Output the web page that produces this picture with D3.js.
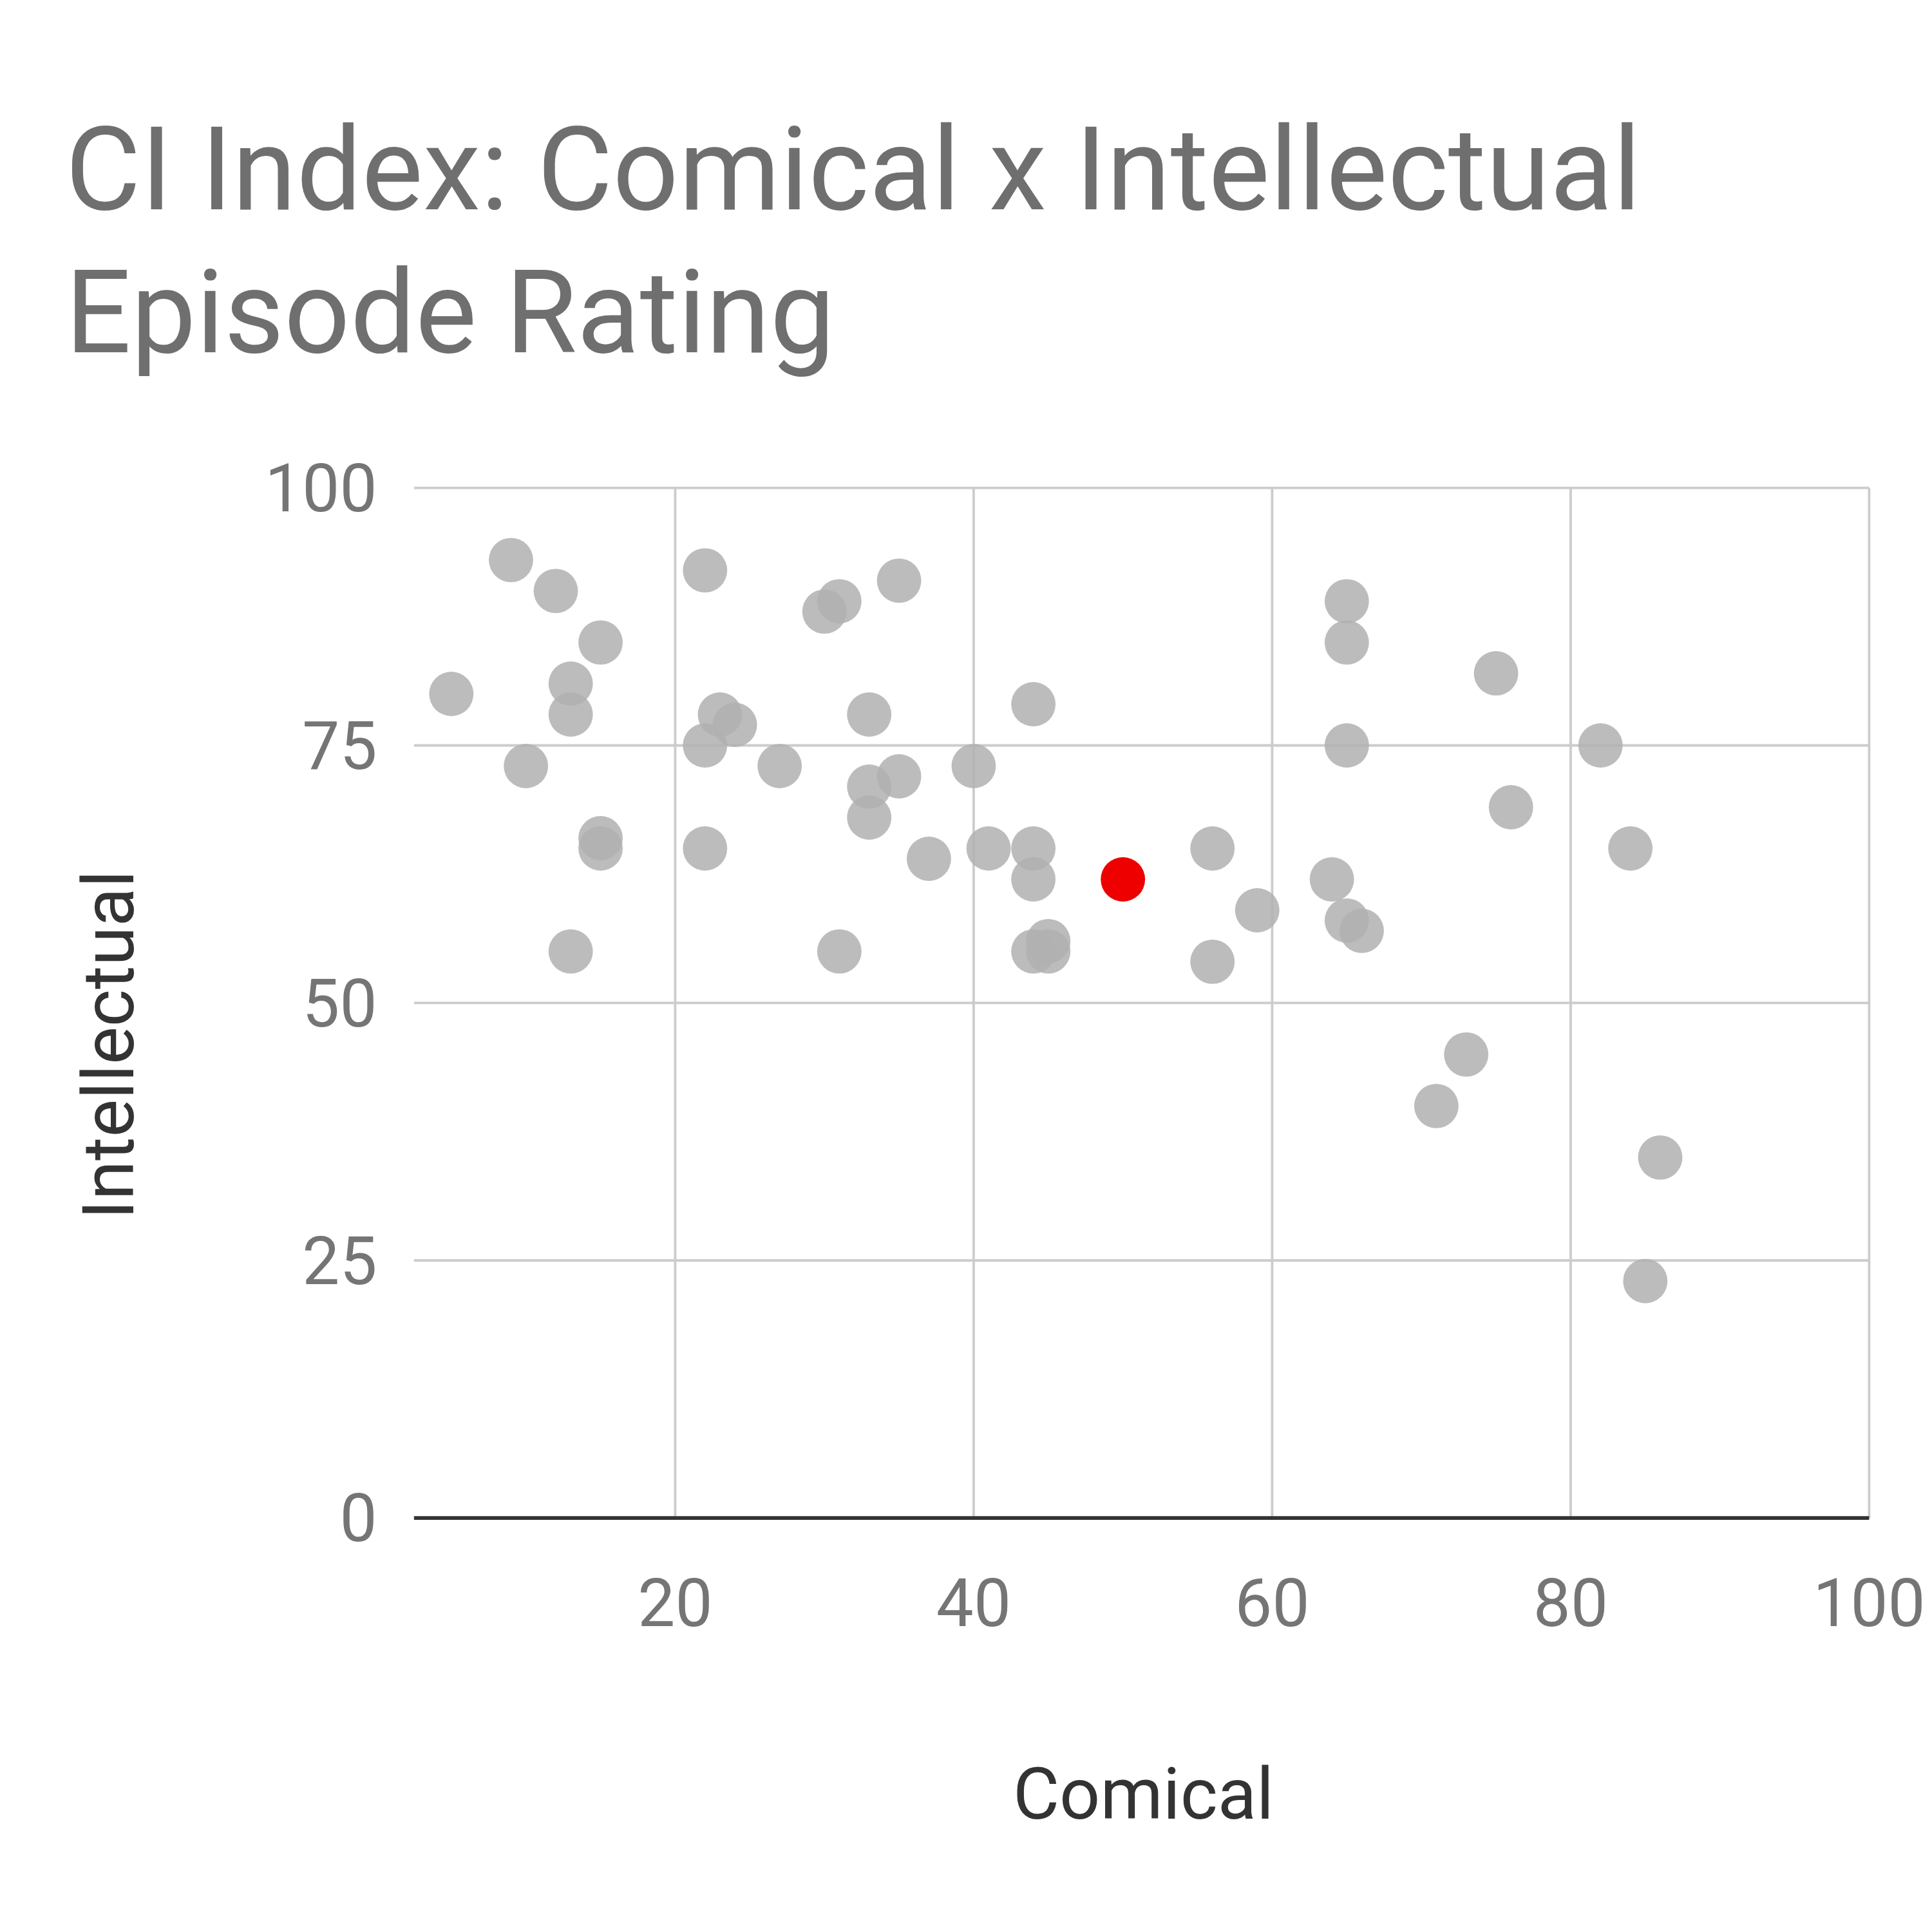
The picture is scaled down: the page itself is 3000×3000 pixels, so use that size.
<!DOCTYPE html>
<html>
<head>
<meta charset="utf-8">
<script src="https://cdn.jsdelivr.net/npm/d3@7"></script>
<style>
body { margin: 0; background: #fff; }
text { font-family: Roboto, "Noto Sans", sans-serif; }
</style>
</head>
<body>
<div id="chart"></div>
<script>
// episode ratings
const comical = [5, 9, 12, 15, 13, 13, 10, 15, 15, 13, 22, 23, 24, 22, 27, 22, 30, 31, 35, 33, 33, 35, 33, 37, 31,
	40, 41, 44, 44, 44, 44, 45, 45, 56, 56, 59, 64, 65, 66, 65, 65, 65, 75, 76, 82, 84, 73, 71, 86, 85];
const intellectual = [80, 93, 90, 85, 81, 78, 73, 66, 65, 55, 92, 78, 77, 75, 73, 65, 88, 89, 91, 78, 71, 72, 68, 64, 55,
	73, 65, 79, 65, 62, 55, 56, 55, 65, 54, 59, 62, 58, 57, 89, 85, 75, 82, 69, 75, 65, 45, 40, 35, 23];
const highlight = { comical: 50, intellectual: 62 };
const xTicks = [20, 40, 60, 80, 100];
const yTicks = [0, 25, 50, 75, 100];

function trans(x, y) {
	return 'translate(' + x + ',' + y + ')';
}

const svg = d3.select('#chart').append('svg')
	.attr('width', 3000).attr('height', 3000)
	.attr('viewBox', '0 0 1568 1568');

const x = d3.scaleLinear().domain([2.5, 100]).range([336, 1517]);
const y = d3.scaleLinear().domain([0, 100]).range([1232, 396]);

svg.append('text').attr('x', 53).attr('y', 170)
	.attr('font-size', 94).attr('fill', '#6f6f6f')
	.text('CI Index: Comical x Intellectual');
svg.append('text').attr('x', 53).attr('y', 286)
	.attr('font-size', 94).attr('fill', '#6f6f6f')
	.text('Episode Rating');

const grid = svg.append('g').attr('stroke', '#cccccc').attr('stroke-width', 2);
grid.selectAll('.vx').data(xTicks).enter().append('line')
	.attr('x1', d => x(d)).attr('x2', d => x(d))
	.attr('y1', y(0)).attr('y2', y(100));
grid.selectAll('.hy').data(yTicks.filter(d => d > 0)).enter().append('line')
	.attr('x1', x(2.5)).attr('x2', x(100))
	.attr('y1', d => y(d)).attr('y2', d => y(d));

svg.append('line').attr('x1', x(2.5)).attr('x2', x(100))
	.attr('y1', y(0)).attr('y2', y(0))
	.attr('stroke', '#333').attr('stroke-width', 3);

svg.append('g').selectAll('text').data(xTicks).enter().append('text')
	.attr('x', d => x(d)).attr('y', 1320)
	.attr('text-anchor', 'middle').attr('font-size', 54).attr('fill', '#757575')
	.text(d => d);
svg.append('g').selectAll('text').data(yTicks).enter().append('text')
	.attr('x', 306).attr('y', d => y(d) + 19)
	.attr('text-anchor', 'end').attr('font-size', 54).attr('fill', '#757575')
	.text(d => d);

svg.append('text').attr('x', 928).attr('y', 1476)
	.attr('text-anchor', 'middle').attr('font-size', 58).attr('fill', '#333')
	.text('Comical');
svg.append('text').attr('transform', trans(108, 848) + ' rotate(-90)')
	.attr('text-anchor', 'middle').attr('font-size', 58).attr('fill', '#333')
	.text('Intellectual');

svg.append('g').selectAll('circle').data(d3.range(comical.length)).enter().append('circle')
	.attr('cx', i => x(comical[i])).attr('cy', i => y(intellectual[i]))
	.attr('r', 18).attr('fill', '#b0b0b0').attr('fill-opacity', 0.85);

svg.append('circle')
	.attr('cx', x(highlight.comical)).attr('cy', y(highlight.intellectual))
	.attr('r', 18).attr('fill', '#ee0000');
</script>
</body>
</html>
